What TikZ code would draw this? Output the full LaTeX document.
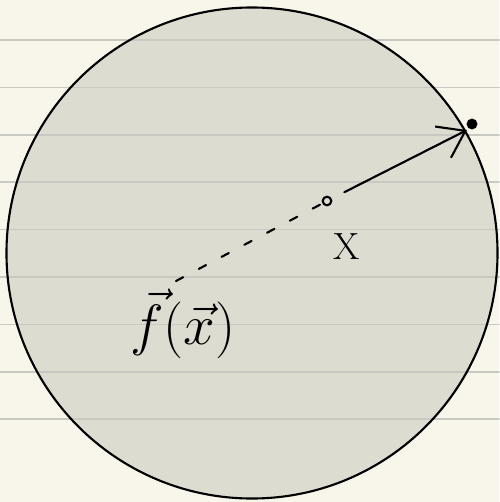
\documentclass[tikz,border=0pt]{standalone}
\usepackage{amsmath}
\usetikzlibrary{arrows.meta}
\definecolor{paper}{HTML}{F8F6EA}
\definecolor{ruling}{HTML}{C9C9C4}
\definecolor{ballfill}{HTML}{DDDCD0}
\tikzset{
  every picture/.append style={line cap=round,line join=round},
  ball boundary/.style={draw=black,line width=1.8pt,fill=ballfill},
  ruled line/.style={ruling,line width=1.5pt},
  ray solid/.style={line width=1.8pt,-{Straight Barb[length=7.5mm,width=10.5mm]}},
  ray dashed/.style={line width=1.8pt,dash pattern=on 7pt off 15pt},
  probe dot/.style={circle,draw=black,line width=1.8pt,inner sep=2.6pt},
  hit dot/.style={circle,fill=black,inner sep=3.3pt},
  ball label/.style={font=\Huge,inner sep=0pt}
}
\begin{document}
\begin{tikzpicture}[x=0.03cm,y=-0.03cm]
\fill[paper] (0,0) rectangle (499,502);
\useasboundingbox (0,0) rectangle (499,502);
\fill[ballfill] (252,253) circle (7.365cm);
\foreach \k in {0,...,8}
  \draw[ruled line] (0,40+47.4*\k) -- (499,40+47.4*\k);
\draw[ball boundary,fill=none] (252,253) circle (7.365cm);
% points on the ray
\coordinate (fx) at (176,281);
\node[probe dot] (xdot) at (327,201) {};
\coordinate (hit) at (467,130);
\node[hit dot] (blob) at (472,124) {};
\draw[ray dashed] (fx) -- (xdot);
\draw[ray solid,shorten <=12pt] (xdot) -- (hit);
% labels
\node[ball label,scale=1.3] (xlabel) at (347,247) {X};
\node[ball label,scale=1.95] (flabel) at (183,324) {$\vec f(\vec x)$};
\end{tikzpicture}
\end{document}
